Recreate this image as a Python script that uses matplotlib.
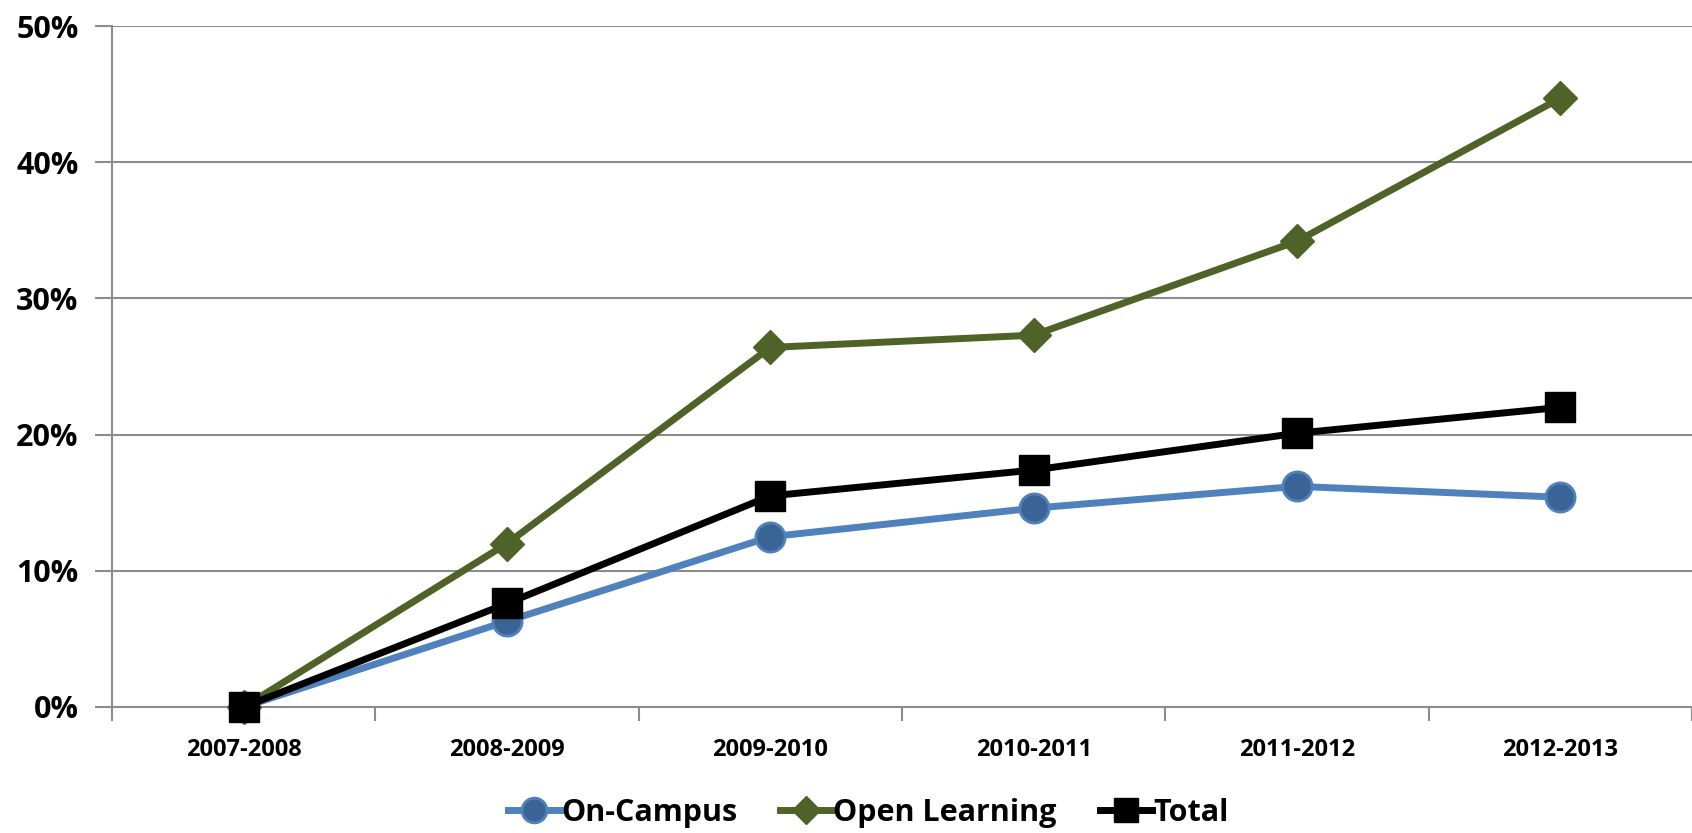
import numpy as np
import matplotlib
matplotlib.use("Agg")
import matplotlib.pyplot as plt
from matplotlib.ticker import FuncFormatter, FixedLocator

years = ["2007-2008", "2008-2009", "2009-2010", "2010-2011", "2011-2012", "2012-2013"]
on_campus = [0.0, 6.3, 12.5, 14.6, 16.2, 15.4]
open_learning = [0.0, 12.0, 26.4, 27.3, 34.2, 44.7]
total = [0.0, 7.6, 15.5, 17.4, 20.1, 22.0]

plt.rcParams['font.family'] = ['Open Sans', 'DejaVu Sans']
plt.rcParams['font.weight'] = 'bold'

fig = plt.figure(figsize=(16.92, 8.33), dpi=100)
ax = fig.add_axes([112 / 1692, 1 - 707 / 833, 1 - 112 / 1692, (707 - 26) / 833])

x = np.arange(len(years))
ax.plot(x, on_campus, color='#4F81BD', lw=5, marker='o', ms=21,
        mfc='#3A6496', mec='#4F81BD', mew=2, label='On-Campus', zorder=3, clip_on=False)
ax.plot(x, open_learning, color='#4F6228', lw=5, marker='D', ms=17,
        mfc='#4F6228', mec='#4F6228', label='Open Learning', zorder=3, clip_on=False)
ax.plot(x, total, color='black', lw=5, marker='s', ms=21,
        mfc='black', mec='black', label='Total', zorder=4, clip_on=False)

ax.set_xlim(-0.5, len(years) - 0.5)
ax.set_ylim(0, 50)
ax.set_yticks(np.arange(0, 51, 10))
ax.yaxis.set_major_formatter(FuncFormatter(lambda v, p: f"{v:.0f}%"))
ax.set_xticks(x)
ax.set_xticklabels(years)
ax.xaxis.set_minor_locator(FixedLocator(np.arange(-0.5, len(years), 1.0)))

ax.grid(axis='y', color='#8C8C8C', lw=1.5)
ax.set_axisbelow(True)
for s in ['top', 'right']:
    ax.spines[s].set_visible(False)
for s in ['left', 'bottom']:
    ax.spines[s].set_color('#8C8C8C')
    ax.spines[s].set_linewidth(1.5)

ax.tick_params(axis='y', which='major', length=12, width=1.5, color='#8C8C8C',
               labelsize=22, pad=12)
ax.tick_params(axis='x', which='major', length=0, labelsize=17, pad=22)
ax.tick_params(axis='x', which='minor', length=10, width=1.5, color='#8C8C8C')

fig.legend(loc='lower center', bbox_to_anchor=(0.513, -0.027), ncol=3, frameon=False,
           fontsize=22, handlelength=1.7, handletextpad=0.05, columnspacing=1.4,
           markerscale=0.85)

fig.savefig("out.png", dpi=100)
